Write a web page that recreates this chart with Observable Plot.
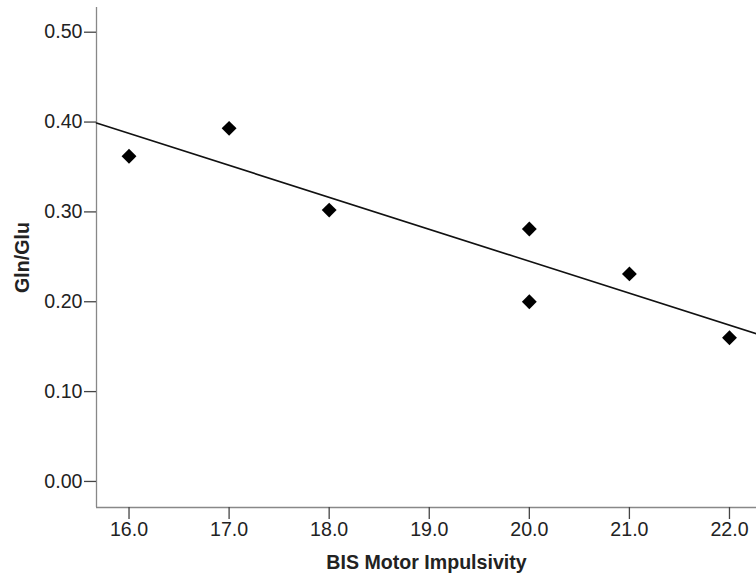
<!DOCTYPE html>
<html>
<head>
<meta charset="utf-8">
<script src="https://cdn.jsdelivr.net/npm/d3@7"></script>
<script src="https://cdn.jsdelivr.net/npm/@observablehq/plot@0.6"></script>
<style>
  html, body { margin: 0; padding: 0; background: #fff; }
  #chart svg { display: block; }
</style>
</head>
<body>
<div id="chart"></div>
<script>
// Data
const motorImpulsivity = [16, 17, 18, 20, 20, 21, 22];
const glnGlu = [0.362, 0.393, 0.302, 0.281, 0.200, 0.231, 0.160];
const xTicks = [16, 17, 18, 19, 20, 21, 22];
const yTicks = [0.0, 0.1, 0.2, 0.3, 0.4, 0.5];
const xDomain = [15.675, 22.27];
const yDomain = [-0.029, 0.5275];
const xLabel = "BIS Motor Impulsivity";
const yLabel = "Gln/Glu";

const points = motorImpulsivity.map((x, i) => ({x, y: glnGlu[i]}));

// Least-squares fit line over the full x extent of the plot
const mx = d3.mean(motorImpulsivity), my = d3.mean(glnGlu);
const sxy = d3.sum(points, d => (d.x - mx) * (d.y - my));
const sxx = d3.sum(points, d => (d.x - mx) ** 2);
const slope = sxy / sxx, intercept = my - slope * mx;
const fit = xDomain.map(x => ({x, y: intercept + slope * x}));

const font = "'Liberation Sans', Arial, Helvetica, sans-serif";
const fs = 19.6;

const chart = Plot.plot({
  width: 756,
  height: 580,
  marginLeft: 96,
  marginRight: 0,
  marginTop: 7,
  marginBottom: 73,
  style: {fontFamily: font, fontSize: fs + "px", color: "#222", background: "#fff"},
  x: {domain: xDomain, ticks: xTicks, tickFormat: d3.format(".1f")},
  y: {domain: yDomain, ticks: yTicks, tickFormat: d3.format(".2f")},
  marks: [
    Plot.ruleX([xDomain[0]], {stroke: "#888", strokeWidth: 1.3}),
    Plot.ruleY([yDomain[0]], {stroke: "#888", strokeWidth: 1.3}),
    Plot.axisX({ticks: xTicks, tickFormat: d3.format(".1f"), tickSize: 12, tickPadding: 3, stroke: "#444", strokeWidth: 1.3, label: null, fontSize: fs, fill: "#222"}),
    Plot.axisY({ticks: yTicks, tickFormat: d3.format(".2f"), tickSize: 12, tickPadding: 2, stroke: "#444", strokeWidth: 1.3, label: null, fontSize: fs, fill: "#222"}),
    Plot.line(fit, {x: "x", y: "y", stroke: "#111", strokeWidth: 1.6}),
    Plot.dot(points, {x: "x", y: "y", symbol: "diamond2", r: 6.7, fill: "#000", stroke: "none"}),
    Plot.text([xLabel], {text: d => d, frameAnchor: "bottom", textAnchor: "middle", lineAnchor: "bottom", dy: 61, fontWeight: "bold", fontSize: fs, fill: "#222"}),
    Plot.text([yLabel], {text: d => d, frameAnchor: "left", textAnchor: "middle", lineAnchor: "middle", dx: -74, rotate: -90, fontWeight: "bold", fontSize: fs, fill: "#222"})
  ]
});
document.getElementById("chart").appendChild(chart);
</script>
</body>
</html>
